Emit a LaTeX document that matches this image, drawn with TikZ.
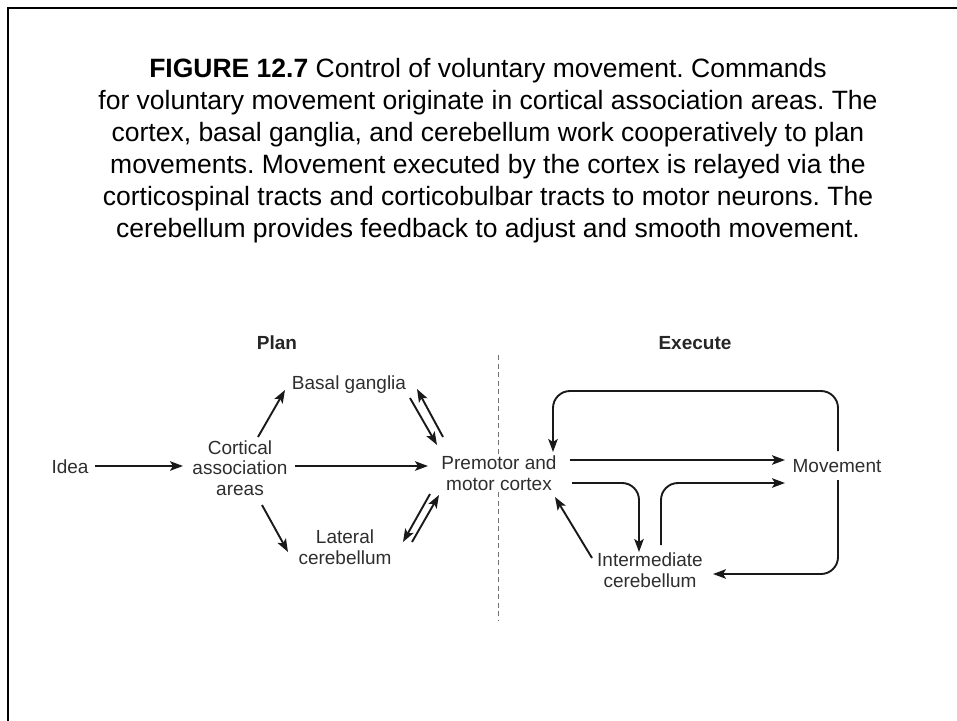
\documentclass[tikz,border=0pt]{standalone}
\usepackage{fontspec}
\setmainfont{Liberation Sans}
\usetikzlibrary{arrows.meta,calc}
\frenchspacing
\begin{document}
\begin{tikzpicture}[x=1bp,y=-1bp,
  lbl/.style={inner sep=2bp, align=center, font=\fontsize{19bp}{20.5bp}\selectfont, text=black!82},
  head/.style={inner sep=0pt, font=\fontsize{19bp}{21bp}\selectfont\bfseries, text=black!85},
  arr/.style={line width=1.9bp, draw=black!90, -{Stealth[length=13bp,width=9.5bp,inset=3bp]}},
  dashline/.style={draw=black!55, line width=1bp, dash pattern=on 5bp off 3.5bp},
  rc/.style={rounded corners=17bp}]
\useasboundingbox (0,0) rectangle (957,721);
\draw[line width=2.5bp, line join=miter] (8,723) -- (8,8) -- (959,8);

\node[align=center, inner sep=0pt, font=\fontsize{26.5bp}{32bp}\selectfont] (cap) at (488,151)
  {\textbf{FIGURE 12.7} Control of voluntary movement. Commands\\
   for voluntary movement originate in cortical association areas. The\\
   cortex, basal ganglia, and cerebellum work cooperatively to plan\\
   movements. Movement executed by the cortex is relayed via the\\
   corticospinal tracts and corticobulbar tracts to motor neurons. The\\
   cerebellum provides feedback to adjust and smooth movement.};

\node[head] (plan) at (277,343) {Plan};
\node[head] (exec) at (695,343) {Execute};

\node[lbl] (idea)  at (70,467)  {Idea};
\node[lbl] (cort)  at (240,468) {Cortical\\association\\areas};
\node[lbl] (basal) at (349,385) {Basal ganglia};
\node[lbl] (lat)   at (345,547) {Lateral\\cerebellum};
\node[lbl] (pm)    at (499,473) {Premotor and\\motor cortex};
\node[lbl] (mov)   at (837,466) {Movement};
\node[lbl] (inter) at (650,570) {Intermediate\\cerebellum};

\coordinate (dtop) at (498,355);
\coordinate (dbot) at (498,620);
\draw[dashline] (dtop) -- (dtop |- pm.north);
\draw[dashline] (dtop |- pm.south) -- (dbot);

\draw[arr] ($(idea)+(25,-1)$) -- ($(cort)+(-57,-2)$);
\draw[arr] ($(cort)+(55,-2)$) -- ($(pm)+(-71,-7)$);
\draw[arr] ($(cort)+(18,-31)$) -- ($(basal)+(-64,5)$);
\draw[arr] ($(cort)+(22,37)$) -- ($(lat)+(-57,5)$);
\draw[arr] ($(basal)+(61,13)$) -- ($(pm)+(-62,-28)$);
\draw[arr] ($(pm)+(-56,-36)$) -- ($(basal)+(68,4)$);
\draw[arr] ($(pm)+(-69,21)$) -- ($(lat)+(58,-5)$);
\draw[arr] ($(lat)+(67,-5)$) -- ($(pm)+(-60,22)$);

\draw[arr] ($(pm)+(71,-13)$) -- ($(mov)+(-52,-6)$);
\draw[arr,rc] ($(pm)+(73,10)$) -| ($(inter)+(-11,-18)$);
\draw[arr,rc] ($(inter)+(11,-25)$) |- ($(mov)+(-52,17)$);
\draw[arr] ($(inter)+(-58,-12)$) -- ($(pm)+(56,24)$);
\draw[arr,rc] ($(mov)+(1,-15)$) -- ($(mov)+(1,-75)$) -| ($(pm)+(54,-21)$);
\draw[arr,rc] ($(mov)+(1,14)$) |- ($(inter)+(63,4)$);
\end{tikzpicture}
\end{document}
